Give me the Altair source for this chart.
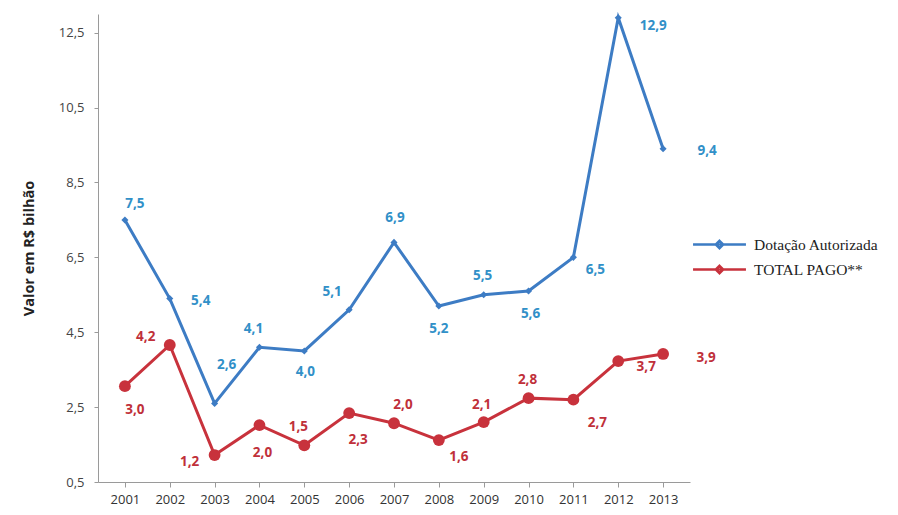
import altair as alt
import pandas as pd

years = [str(y) for y in range(2001, 2014)]
dotacao = [7.5, 5.4, 2.6, 4.1, 4.0, 5.1, 6.9, 5.2, 5.5, 5.6, 6.5, 12.9, 9.4]
pago = [3.06, 4.16, 1.22, 2.02, 1.48, 2.34, 2.07, 1.62, 2.1, 2.74, 2.7, 3.73, 3.92]
dotacao_labels = ["7,5", "5,4", "2,6", "4,1", "4,0", "5,1", "6,9", "5,2", "5,5", "5,6", "6,5", "12,9", "9,4"]
pago_labels = ["3,0", "4,2", "1,2", "2,0", "1,5", "2,3", "2,0", "1,6", "2,1", "2,8", "2,7", "3,7", "3,9"]
series_names = ["Dotação Autorizada", "TOTAL PAGO**"]

# label offsets (pixels) relative to each point
dot_dx = [10, 31, 12, -6, 1, -17, 1, 0, -1, 2, 22, 35, 44]
dot_dy = [-16, 2, -38, -18, 21, -18, -24, 23, -19, 23, 13, 8, 2]
pago_dx = [10, -24, -25, 3, -6, 9, 9, 20, -2, -1, 24, 28, 43]
pago_dy = [24, -8, 7, 28, -18, 27, -18, 17, -17, -18, 23, 6, 4]

BLUE = "#3d7cc4"
BLUE_TXT = "#3190c8"
RED = "#c8323c"
RED_TXT = "#c0303a"

df = pd.DataFrame({
    "year": years * 2,
    "value": dotacao + pago,
    "label": dotacao_labels + pago_labels,
    "series": [series_names[0]] * 13 + [series_names[1]] * 13,
    "dx": dot_dx + pago_dx,
    "dy": dot_dy + pago_dy,
})

x = alt.X("year:O", title=None,
          scale=alt.Scale(type="point", padding=0.6),
          axis=alt.Axis(labelAngle=0, labelFontSize=13, labelColor="#333333",
                        labelFont="Open Sans", domainColor="#9a9a9a", tickColor="#9a9a9a",
                        tickSize=5, labelPadding=6))
y = alt.Y("value:Q", title="Valor em R$ bilhão",
          scale=alt.Scale(domain=[0.5, 13], nice=False, zero=False),
          axis=alt.Axis(values=[0.5, 2.5, 4.5, 6.5, 8.5, 10.5, 12.5], grid=False,
                        labelExpr="replace(format(datum.value, '.1f'), '.', ',')",
                        labelFontSize=13, labelColor="#444444", labelFont="Open Sans",
                        labelPadding=10,
                        titleFont="Open Sans", titleFontSize=14.5, titleFontWeight="bold",
                        titleColor="#222222", titlePadding=22,
                        domainColor="#9a9a9a", tickColor="#9a9a9a", tickSize=4))

color = alt.Color("series:N", title=None,
                  scale=alt.Scale(domain=series_names, range=[BLUE, RED]),
                  legend=alt.Legend(orient="none", legendX=607, legendY=216,
                                    symbolType="M-2,0H2M0,-0.28L0.28,0L0,0.28L-0.28,0Z",
                                    symbolSize=700, symbolStrokeWidth=2.5,
                                    labelFont="Liberation Serif", labelFontSize=15.5,
                                    labelColor="#222222", rowPadding=1, labelOffset=20))

line = alt.Chart(df).mark_line(strokeWidth=3).encode(x=x, y=y, color=color)

blue_pts = alt.Chart(df).transform_filter(alt.datum.series == series_names[0]).mark_point(
    shape="diamond", filled=True, size=50, color=BLUE, opacity=1).encode(x=x, y=y)
red_pts = alt.Chart(df).transform_filter(alt.datum.series == series_names[1]).mark_point(
    shape="circle", filled=True, size=140, color=RED, opacity=1).encode(x=x, y=y)

blue_txt = alt.Chart(df).transform_filter(alt.datum.series == series_names[0]).mark_text(
    font="Open Sans", fontSize=13.5, fontWeight="bold", color=BLUE_TXT,
    dx=alt.expr("datum.dx"), dy=alt.expr("datum.dy")).encode(x=x, y=y, text="label:N")
red_txt = alt.Chart(df).transform_filter(alt.datum.series == series_names[1]).mark_text(
    font="Open Sans", fontSize=13.5, fontWeight="bold", color=RED_TXT,
    dx=alt.expr("datum.dx"), dy=alt.expr("datum.dy")).encode(x=x, y=y, text="label:N")

chart = alt.layer(line, blue_pts, red_pts, blue_txt, red_txt).properties(
    width=592, height=468,
    background="white",
    autosize=alt.AutoSizeParams(type="none"),
    padding={"left": 90, "top": 6, "right": 200, "bottom": 30},
).configure_view(stroke=None, strokeWidth=0)

chart.save("out.html", embed_options={"renderer": "svg", "actions": False})
